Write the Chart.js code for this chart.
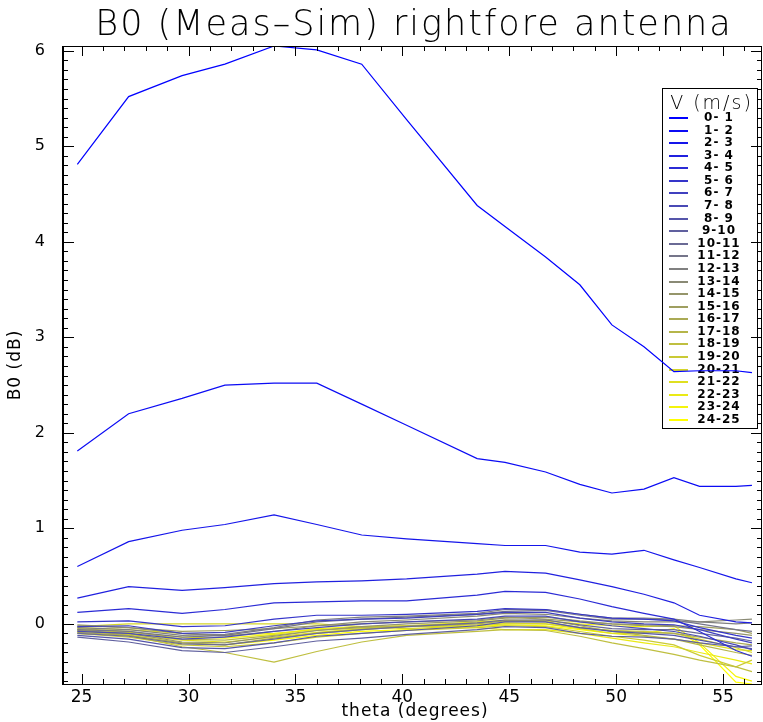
<!DOCTYPE html>
<html>
<head>
<meta charset="utf-8">
<script src="https://cdn.jsdelivr.net/npm/chart.js@4.4.0/dist/chart.umd.min.js"></script>
<style>
  html, body { margin: 0; padding: 0; background: #fff; }
  #wrap { width: 763px; height: 722px; }
</style>
</head>
<body>
<div id="wrap"><canvas id="chart"></canvas></div>
<script>
// theta (degrees) sample points
const theta = [24.8, 27.2, 29.7, 31.7, 34.0, 36.0, 38.1, 40.2, 43.5, 44.8, 46.7, 48.3, 49.8, 51.3, 52.7, 53.9, 55.6, 56.35];

// wind speed bins
const speedBins = ['0- 1', '1- 2', '2- 3', '3- 4', '4- 5', '5- 6', '6- 7', '7- 8', '8- 9', '9-10',
  '10-11', '11-12', '12-13', '13-14', '14-15', '15-16', '16-17', '17-18', '18-19', '19-20',
  '20-21', '21-22', '22-23', '23-24', '24-25'];

// B0 (Meas-Sim) in dB, one array per speed bin
const b0_00 = [4.81, 5.52, 5.74, 5.86, 6.05, 6.01, 5.86, 5.28, 4.38, 4.16, 3.84, 3.55, 3.13, 2.90, 2.64, 2.65, 2.65, 2.63];
const b0_01 = [1.81, 2.20, 2.36, 2.50, 2.52, 2.52, 2.30, 2.08, 1.73, 1.69, 1.59, 1.46, 1.37, 1.41, 1.53, 1.44, 1.44, 1.45];
const b0_02 = [0.60, 0.86, 0.98, 1.04, 1.14, 1.04, 0.93, 0.89, 0.84, 0.82, 0.82, 0.75, 0.73, 0.77, 0.67, 0.59, 0.47, 0.43];
const b0_03 = [0.27, 0.39, 0.35, 0.38, 0.42, 0.44, 0.45, 0.47, 0.52, 0.55, 0.53, 0.46, 0.39, 0.31, 0.22, 0.09, 0.02, 0.01];
const b0_04 = [0.12, 0.16, 0.11, 0.15, 0.22, 0.23, 0.24, 0.24, 0.30, 0.34, 0.33, 0.26, 0.18, 0.11, 0.05, -0.08, -0.28, -0.34];
const b0_05 = [0.02, 0.03, -0.03, -0.02, 0.05, 0.09, 0.09, 0.10, 0.13, 0.16, 0.15, 0.10, 0.06, 0.05, 0.03, -0.04, -0.12, -0.15];
const b0_06 = [-0.03, -0.02, -0.10, -0.09, -0.02, 0.03, 0.05, 0.06, 0.10, 0.12, 0.12, 0.06, 0.02, 0.00, -0.01, -0.06, -0.16, -0.20];
const b0_07 = [-0.08, -0.10, -0.16, -0.14, -0.08, -0.04, 0.00, 0.02, 0.05, 0.08, 0.08, 0.02, -0.02, -0.05, -0.08, -0.13, -0.22, -0.27];
const b0_08 = [-0.12, -0.16, -0.25, -0.26, -0.20, -0.13, -0.10, -0.07, -0.02, 0.02, 0.02, -0.04, -0.08, -0.10, -0.12, -0.17, -0.24, -0.26];
const b0_09 = [-0.14, -0.19, -0.28, -0.30, -0.24, -0.18, -0.15, -0.11, -0.06, -0.03, -0.04, -0.10, -0.13, -0.14, -0.16, -0.20, -0.24, -0.23];
const b0_10 = [-0.10, -0.13, -0.21, -0.22, -0.16, -0.10, -0.06, -0.03, 0.01, 0.04, 0.04, -0.01, -0.05, -0.06, -0.06, -0.10, -0.15, -0.18];
const b0_11 = [-0.06, -0.08, -0.14, -0.12, -0.05, 0.02, 0.05, 0.07, 0.10, 0.13, 0.14, 0.09, 0.05, 0.05, 0.04, 0.00, -0.06, -0.08];
const b0_12 = [-0.04, -0.06, -0.12, -0.11, -0.04, 0.04, 0.07, 0.08, 0.11, 0.15, 0.15, 0.10, 0.06, 0.06, 0.05, 0.02, 0.00, 0.01];
const b0_13 = [-0.02, -0.04, -0.10, -0.13, -0.08, -0.02, 0.02, 0.04, 0.08, 0.11, 0.10, 0.06, 0.03, 0.02, 0.02, 0.02, 0.04, 0.05];
const b0_14 = [-0.07, -0.10, -0.19, -0.20, -0.13, -0.07, -0.03, 0.00, 0.03, 0.06, 0.07, 0.03, 0.00, -0.02, -0.03, -0.06, -0.10, -0.12];
const b0_15 = [-0.01, -0.04, -0.08, -0.07, -0.05, -0.02, 0.00, 0.02, 0.04, 0.07, 0.05, 0.02, 0.00, -0.01, -0.02, -0.03, -0.06, -0.10];
const b0_16 = [-0.09, -0.12, -0.20, -0.22, -0.15, -0.10, -0.06, -0.03, 0.00, 0.03, 0.02, -0.04, -0.07, -0.09, -0.10, -0.14, -0.20, -0.22];
const b0_17 = [-0.05, -0.08, -0.16, -0.17, -0.12, -0.07, -0.04, -0.02, 0.01, 0.03, 0.04, -0.02, -0.08, -0.12, -0.16, -0.22, -0.30, -0.33];
const b0_18 = [-0.06, -0.12, -0.24, -0.30, -0.40, -0.29, -0.19, -0.12, -0.08, -0.06, -0.07, -0.13, -0.20, -0.26, -0.32, -0.38, -0.45, -0.50];
const b0_19 = [-0.10, -0.14, -0.22, -0.24, -0.20, -0.14, -0.10, -0.07, -0.04, -0.02, -0.03, -0.08, -0.13, -0.17, -0.22, -0.33, -0.45, -0.38];
const b0_20 = [-0.03, 0.00, 0.00, 0.00, 0.00, 0.00, -0.03, -0.05, -0.02, 0.00, 0.00, -0.04, -0.07, -0.08, -0.10, -0.16, -0.25, -0.30];
const b0_21 = [-0.08, -0.11, -0.17, -0.19, -0.14, -0.09, -0.05, -0.03, -0.01, 0.01, 0.00, -0.05, -0.10, -0.13, -0.16, -0.20, -0.27, -0.28];
const b0_22 = [-0.04, -0.06, -0.10, -0.12, -0.10, -0.06, -0.04, -0.02, -0.04, -0.06, -0.06, -0.10, -0.15, -0.20, -0.24, -0.30, -0.38, -0.42];
const b0_23 = [-0.06, -0.09, -0.14, -0.15, -0.11, -0.05, -0.03, -0.02, 0.02, 0.04, 0.03, 0.00, -0.02, -0.03, -0.02, -0.20, -0.55, -0.60];
const b0_24 = [-0.10, -0.12, -0.20, -0.22, -0.17, -0.12, -0.08, -0.06, -0.03, -0.01, -0.02, -0.06, -0.10, -0.10, -0.05, -0.22, -0.61, -0.63];

const b0Series = [b0_00, b0_01, b0_02, b0_03, b0_04, b0_05, b0_06, b0_07, b0_08, b0_09,
  b0_10, b0_11, b0_12, b0_13, b0_14, b0_15, b0_16, b0_17, b0_18, b0_19,
  b0_20, b0_21, b0_22, b0_23, b0_24];

const xTicks = [25, 30, 35, 40, 45, 50, 55];
const yTicks = [0, 1, 2, 3, 4, 5, 6];

// blue -> grey -> yellow colour table
function binColor(i) {
    const f = i / (speedBins.length - 1);
    const r = Math.round(255 * f), g = Math.round(255 * f), b = Math.round(255 * (1 - f));
    return 'rgb(' + r + ',' + g + ',' + b + ')';
}

const FONT = '"DejaVu Sans", sans-serif';

function line(ctx, x1, y1, x2, y2) {
    ctx.beginPath();
    ctx.moveTo(x1, y1);
    ctx.lineTo(x2, y2);
    ctx.stroke();
}

// legend box goes under the curves, like the original plot
const idlLegend = {
    id: 'idlLegend',
    beforeDatasetsDraw(chart) {
        const ctx = chart.ctx;
        const lx = 662, ly = 88, lw = 95, lh = 340;
        ctx.save();
        ctx.fillStyle = '#fff';
        ctx.fillRect(lx, ly, lw, lh);
        ctx.strokeStyle = '#000';
        ctx.lineWidth = 1;
        ctx.strokeRect(lx + 0.5, ly + 0.5, lw, lh);
        ctx.fillStyle = '#000';
        ctx.font = '200 19px ' + FONT;
        ctx.textAlign = 'center';
        ctx.textBaseline = 'alphabetic';
        ctx.letterSpacing = '2px';
        ctx.fillText('V (m/s)', lx + lw / 2 + 2, ly + 21);
        ctx.font = 'bold 12px ' + FONT;
        ctx.textBaseline = 'middle';
        ctx.letterSpacing = '1px';
        ctx.lineWidth = 2;
        chart.data.datasets.forEach((ds, i) => {
            const yy = Math.round(ly + 30 + i * 12.58);
            ctx.strokeStyle = ds.borderColor;
            line(ctx, lx + 7, yy, lx + 26, yy);
            ctx.fillStyle = '#000';
            ctx.fillText(ds.label, lx + 57, yy);
        });
        ctx.restore();
    }
};

// frame with inward ticks on all sides, title and axis titles
const idlFrame = {
    id: 'idlFrame',
    afterDraw(chart) {
        const ctx = chart.ctx;
        const a = chart.chartArea;
        const xs = chart.scales.x, ys = chart.scales.y;
        ctx.save();
        ctx.strokeStyle = '#000';
        ctx.lineWidth = 1;

        // frame
        ctx.strokeRect(Math.round(a.left) - 0.5, Math.round(a.top) + 0.5,
            Math.round(a.right - a.left), Math.round(a.bottom - a.top));
        line(ctx, Math.round(a.left) + 0.5, a.top, Math.round(a.left) + 0.5, a.bottom);

        // x ticks every degree
        for (let v = Math.ceil(xs.min); v <= xs.max; v++) {
            const px = Math.round(xs.getPixelForValue(v)) + 0.5;
            const len = v % 5 === 0 ? 10 : 5;
            line(ctx, px, a.bottom, px, a.bottom - len);
            line(ctx, px, a.top, px, a.top + len);
        }
        // y ticks every 0.1 dB
        for (let k = Math.ceil(ys.min * 10); k <= Math.floor(ys.max * 10); k++) {
            const py = Math.round(ys.getPixelForValue(k / 10)) + 0.5;
            const len = k % 10 === 0 ? 11 : 5;
            line(ctx, a.left, py, a.left + len, py);
            line(ctx, a.right, py, a.right - len, py);
        }

        // title
        ctx.fillStyle = '#000';
        ctx.textAlign = 'center';
        ctx.textBaseline = 'alphabetic';
        ctx.font = '200 35px ' + FONT;
        ctx.letterSpacing = '2px';
        ctx.fillText('B0 (Meas\u2013Sim) rightfore antenna', 414, 35);

        // axis titles
        ctx.font = '17px ' + FONT;
        ctx.letterSpacing = '1px';
        ctx.fillText('theta (degrees)', 415, 716);
        ctx.save();
        ctx.translate(20, 365);
        ctx.rotate(-Math.PI / 2);
        ctx.fillText('B0 (dB)', 0, 0);
        ctx.restore();
        ctx.restore();
    }
};

const ctx = document.getElementById('chart').getContext('2d');
new Chart(ctx, {
    type: 'line',
    data: {
        datasets: b0Series.map((vals, i) => ({
            label: speedBins[i],
            data: vals.map((v, j) => ({ x: theta[j], y: v })),
            borderColor: binColor(i),
            borderWidth: 1.2,
            pointRadius: 0,
            tension: 0,
            fill: false
        }))
    },
    options: {
        responsive: true,
        maintainAspectRatio: false,
        animation: false,
        layout: { padding: { top: 46, right: 1, left: 0, bottom: 0 } },
        plugins: {
            legend: { display: false },
            title: { display: false },
            tooltip: { enabled: false }
        },
        scales: {
            x: {
                type: 'linear',
                min: 24.13,
                max: 56.82,
                grid: { display: false, drawTicks: false },
                border: { display: false },
                afterFit: function(scale) { scale.height = 38; },
                afterBuildTicks: function(scale) { scale.ticks = xTicks.map(v => ({ value: v })); },
                ticks: {
                    color: '#000',
                    padding: 3,
                    maxRotation: 0,
                    font: { family: FONT, size: 17 },
                    callback: function(value) { return String(value); }
                }
            },
            y: {
                type: 'linear',
                min: -0.63,
                max: 6.05,
                grid: { display: false, drawTicks: false },
                border: { display: false },
                afterFit: function(scale) { scale.width = 63; },
                afterBuildTicks: function(scale) { scale.ticks = yTicks.map(v => ({ value: v })); },
                ticks: {
                    color: '#000',
                    padding: 18,
                    font: { family: FONT, size: 16 },
                    callback: function(value) { return String(value); }
                }
            }
        }
    },
    plugins: [idlLegend, idlFrame]
});
</script>
</body>
</html>
